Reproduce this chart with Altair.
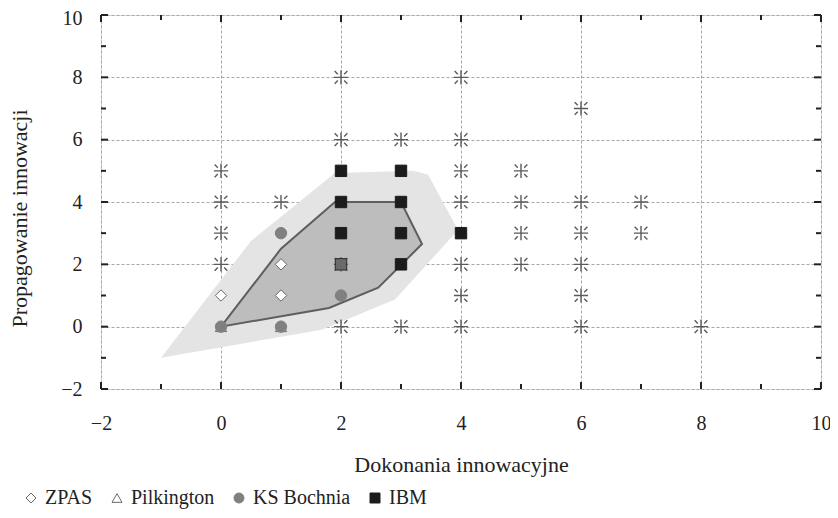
import altair as alt
import pandas as pd

# ---------------- data ----------------
outer_x = [-1.0, 0.5, 1.9, 3.2, 3.45, 3.95, 2.9, 1.68]
outer_y = [-1.0, 2.75, 4.93, 5.0, 4.88, 3.1, 0.87, -0.1]
inner_x = [0.0, 1.0, 1.9, 3.0, 3.35, 2.62, 1.8]
inner_y = [0.0, 2.5, 4.0, 4.0, 2.65, 1.25, 0.6]

star_x = [0, 0, 0, 0, 1, 2, 2, 2, 2, 3, 3, 4, 4, 4, 4, 4, 4, 4, 5, 5, 5, 5, 6, 6, 6, 6, 6, 6, 7, 7, 8]
star_y = [2, 3, 4, 5, 4, 8, 6, 2, 0, 6, 0, 8, 6, 5, 4, 2, 1, 0, 5, 4, 3, 2, 7, 4, 3, 2, 1, 0, 4, 3, 0]

companies = ["ZPAS", "Pilkington", "KS Bochnia", "IBM"]
zpas_x = [0, 1, 1]
zpas_y = [1, 2, 1]
pilk_x = [0, 1]
pilk_y = [0, 0]
ksb_x = [0, 1, 1, 2]
ksb_y = [0, 0, 3, 1]
ibm_x = [2, 3, 2, 3, 2, 3, 3, 4]
ibm_y = [5, 5, 4, 4, 3, 3, 2, 3]
mixed_x = [2]
mixed_y = [2]

major_ticks = [-2, 0, 2, 4, 6, 8, 10]
minor_ticks = [-1, 1, 3, 5, 7, 9]

# ---------------- tables ----------------
outer_df = pd.DataFrame({"x": outer_x, "y": outer_y, "i": range(len(outer_x))})
inner_df = pd.DataFrame({"x": inner_x, "y": inner_y, "i": range(len(inner_x))})
star_df = pd.DataFrame({"x": star_x, "y": star_y})
pts = []
for name, xs_, ys_ in [("ZPAS", zpas_x, zpas_y), ("Pilkington", pilk_x, pilk_y),
                       ("KS Bochnia", ksb_x, ksb_y), ("IBM", ibm_x, ibm_y)]:
    for a, b in zip(xs_, ys_):
        pts.append({"x": a, "y": b, "firma": name})
pts_df = pd.DataFrame(pts)
mixed_df = pd.DataFrame({"x": mixed_x, "y": mixed_y})
major_df = pd.DataFrame({"x": major_ticks, "y": major_ticks})
minor_df = pd.DataFrame({"x": minor_ticks, "y": minor_ticks})

W, H = 720, 374
FONT = "Liberation Serif"
INK = "#222222"

xs = alt.Scale(domain=[-2, 10], nice=False, zero=False)
ys = alt.Scale(domain=[-2, 10], nice=False, zero=False)

x_axis = alt.Axis(values=major_ticks, grid=True, gridDash=[3, 2], gridColor="#a8a8a8",
                  gridWidth=1, ticks=False, tickSize=0, domain=False, labelFlush=False,
                  labelFont=FONT, labelFontSize=20, labelColor=INK, labelPadding=24,
                  title="Dokonania innowacyjne", titleFont=FONT, titleFontSize=22,
                  titleFontWeight="normal", titleColor=INK, titlePadding=21)
y_axis = alt.Axis(values=major_ticks, grid=True, gridDash=[3, 2], gridColor="#a8a8a8",
                  gridWidth=1, ticks=False, tickSize=0, domain=False, labelFlush=False,
                  labelFont=FONT, labelFontSize=20, labelColor=INK, labelPadding=19,
                  labelOffset={"condition": {"test": "datum.value == 10", "value": 3},
                               "value": 0},
                  title="Propagowanie innowacji", titleFont=FONT, titleFontSize=22,
                  titleFontWeight="normal", titleColor=INK,
                  titleX=-82, titleY=203, titleAngle=270, titleAlign="center",
                  titleBaseline="middle")

X = alt.X("x:Q", scale=xs, axis=x_axis)
Y = alt.Y("y:Q", scale=ys, axis=y_axis)

outer = alt.Chart(outer_df).mark_line(
    interpolate="linear-closed", fill="#e4e4e4", strokeWidth=0
).encode(x=X, y=Y, order="i:Q")

inner = alt.Chart(inner_df).mark_line(
    interpolate="linear-closed", fill="#bdbdbd", stroke="#5e5e5e", strokeWidth=2
).encode(x=X, y=Y, order="i:Q")

STAR = ("M-1,0L1,0M0,-1L0,1M-0.9,-0.9L-0.45,-0.45M0.45,0.45L0.9,0.9"
        "M-0.9,0.9L-0.45,0.45M0.45,-0.45L0.9,-0.9")
stars = alt.Chart(star_df).mark_point(
    shape=STAR, size=200, stroke="#5a5a5a", strokeWidth=1.4, filled=False, opacity=1
).encode(x=X, y=Y)

leg = alt.Legend(title=None, orient="none", legendX=-80, legendY=473,
                 direction="horizontal", labelFont=FONT, labelFontSize=20,
                 labelColor=INK, symbolSize=100, labelOffset=4, columnPadding=14,
                 symbolStrokeWidth=1, padding=0, labelLimit=300)
points = alt.Chart(pts_df).mark_point(size=130, strokeWidth=1, opacity=1).encode(
    x=X, y=Y,
    shape=alt.Shape("firma:N", sort=companies,
                    scale=alt.Scale(domain=companies,
                                    range=["diamond", "triangle-up", "circle", "square"]),
                    legend=leg),
    fill=alt.Fill("firma:N", sort=companies,
                  scale=alt.Scale(domain=companies,
                                  range=["#ffffff", "#ffffff", "#808080", "#1c1c1c"]),
                  legend=leg),
    stroke=alt.Stroke("firma:N", sort=companies,
                      scale=alt.Scale(domain=companies,
                                      range=["#6a6a6a", "#6a6a6a", "#808080", "#1c1c1c"]),
                      legend=leg),
)

mixed = alt.Chart(mixed_df).mark_point(
    shape="square", size=130, fill="#6b6b6b", stroke="#2a2a2a", strokeWidth=1, opacity=1
).encode(x=X, y=Y)

def ticks(df, length):
    rs = dict(stroke=INK, strokeWidth=2)
    b = alt.Chart(df).mark_rule(**rs).encode(x=X, y=alt.value(H), y2=alt.value(H - length))
    t = alt.Chart(df).mark_rule(**rs).encode(x=X, y=alt.value(0), y2=alt.value(length))
    l = alt.Chart(df).mark_rule(**rs).encode(y=Y, x=alt.value(0), x2=alt.value(length))
    r = alt.Chart(df).mark_rule(**rs).encode(y=Y, x=alt.value(W), x2=alt.value(W - length))
    return [b, t, l, r]

layers = [outer, inner, stars, points, mixed] + ticks(major_df, 7) + ticks(minor_df, 5)

chart = alt.layer(*layers).properties(
    width=W, height=H,
    autosize=alt.AutoSizeParams(type="none"),
    padding={"left": 93, "top": 7, "right": 9, "bottom": 121},
).configure_view(stroke=INK, strokeWidth=2).configure(background="white")

chart.save("out.html", embed_options={"renderer": "svg", "actions": False})
